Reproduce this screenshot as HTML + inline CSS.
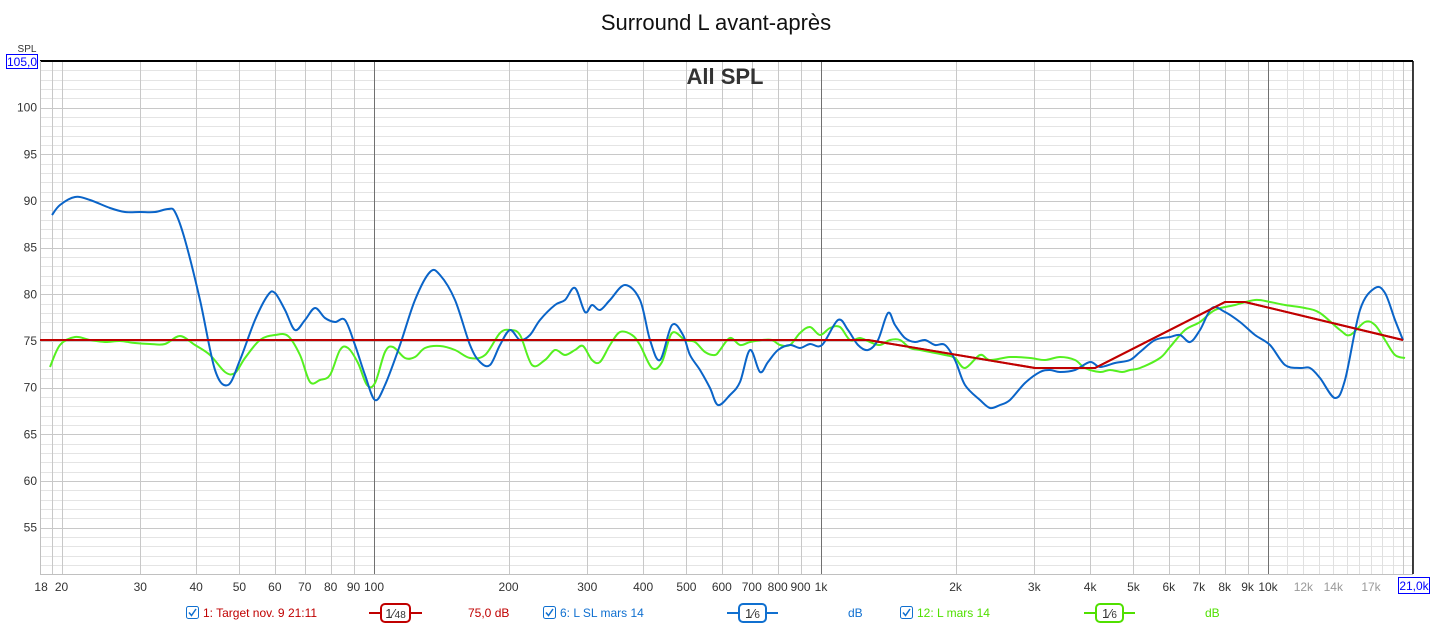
<!DOCTYPE html>
<html><head><meta charset="utf-8"><style>
body{margin:0;background:#fff;width:1433px;height:625px;overflow:hidden;font-family:"Liberation Sans",sans-serif}
svg text{font-family:"Liberation Sans",sans-serif}
</style></head><body>
<svg id="s" width="1433" height="625" xmlns="http://www.w3.org/2000/svg"></svg>
<script>
const S=document.getElementById('s');let h='';
const X=f=>374+447*Math.log10(f/100), Y=v=>61+(105-v)*9.333;
const P=v=>Math.round(v)+0.5;
const L=40,R=1413,T=61,B=574;
for(let v=50;v<=105;v++){const y=P(Y(v));h+=`<line x1="${L}" x2="${R}" y1="${y}" y2="${y}" stroke="${v%5==0?'#c8c8c8':'#e4e4e4'}" stroke-width="1"/>`;}
const fr=[];for(let d of [10,100,1000,10000])for(let m=1;m<10;m++){const f=d*m;if(f>=18&&f<=21000)fr.push(f);}
fr.push(19);
for(let f=11000;f<=21000;f+=1000){if(f==20000)continue;const x=P(X(f));h+=`<line x1="${x}" x2="${x}" y1="${T}" y2="${B}" stroke="#e0e0e0"/>`;}
for(let f of fr){const x=P(X(f));let c='#c8c8c8';if([100,1000,10000].includes(f))c='#707070';h+=`<line x1="${x}" x2="${x}" y1="${T}" y2="${B}" stroke="${c}"/>`;}
h+=`<line x1="${L}" x2="${R}" y1="${T}" y2="${T}" stroke="#000" stroke-width="2"/>`;
h+=`<line x1="${R}" x2="${R}" y1="${T}" y2="${B}" stroke="#000" stroke-width="1.5"/>`;
h+=`<line x1="${L}" x2="${R}" y1="${B+0.5}" y2="${B+0.5}" stroke="#c0c0c0"/>`;
h+=`<line x1="${L+0.5}" x2="${L+0.5}" y1="${T}" y2="${B}" stroke="#c0c0c0"/>`;
for(let v=55;v<=100;v+=5)h+=`<text x="37" y="${Y(v)+4}" font-size="12" fill="#333" text-anchor="end">${v}</text>`;
h+=`<text x="27" y="52" font-size="10" fill="#333" text-anchor="middle">SPL</text>`;
h+=`<rect x="6.5" y="54.5" width="31" height="14" fill="#fff" stroke="#0000ff"/><text x="22" y="66" font-size="12" fill="#0000ff" text-anchor="middle">105,0</text>`;
const xl=[[18,'18'],[20,'20'],[30,'30'],[40,'40'],[50,'50'],[60,'60'],[70,'70'],[80,'80'],[90,'90'],[100,'100'],[200,'200'],[300,'300'],[400,'400'],[500,'500'],[600,'600'],[700,'700'],[800,'800'],[900,'900'],[1000,'1k'],[2000,'2k'],[3000,'3k'],[4000,'4k'],[5000,'5k'],[6000,'6k'],[7000,'7k'],[8000,'8k'],[9000,'9k'],[10000,'10k']];
for(const[f,t]of xl)h+=`<text x="${X(f)}" y="591" font-size="12" fill="#333" text-anchor="middle">${t}</text>`;
for(const[f,t]of [[12000,'12k'],[14000,'14k'],[17000,'17k']])h+=`<text x="${X(f)}" y="591" font-size="12" fill="#999" text-anchor="middle">${t}</text>`;
h+=`<rect x="1398.5" y="577.5" width="31" height="16" fill="#fff" stroke="#0000ff"/><text x="1414" y="590" font-size="12" fill="#0000ff" text-anchor="middle">21,0k</text>`;
h+=`<text x="716" y="30" font-size="22" fill="#111" text-anchor="middle">Surround L avant-après</text>`;
h+=`<text x="725" y="84" font-size="22" font-weight="bold" fill="#333" text-anchor="middle">All SPL</text>`;
function cr(p){let d=`M${p[0][0]},${p[0][1]}`;for(let i=0;i<p.length-1;i++){const a=p[Math.max(i-1,0)],b=p[i],c=p[i+1],e=p[Math.min(i+2,p.length-1)];d+=`C${b[0]+(c[0]-a[0])/6},${b[1]+(c[1]-a[1])/6} ${c[0]-(e[0]-b[0])/6},${c[1]-(e[1]-b[1])/6} ${c[0]},${c[1]}`;}return d;}
const blue=[[52,215],[60,205],[75,197],[90,200],[110,208],[125,212],[140,212],[155,212],[168,209],[175,212],[185,240],[200,300],[215,370],[228,385],[240,360],[255,320],[268,295],[275,293],[285,310],[295,330],[305,320],[315,308],[325,318],[335,322],[345,320],[355,345],[365,375],[375,400],[385,385],[400,345],[415,300],[430,272],[440,275],[455,300],[470,345],[480,362],[490,365],[500,345],[510,330],[520,340],[530,335],[540,320],[555,305],[565,300],[575,288],[585,312],[592,305],[600,310],[610,300],[625,285],[640,300],[650,340],[660,360],[672,325],[683,335],[690,355],[700,370],[710,388],[718,405],[730,395],[740,382],[750,350],[760,372],[768,362],[778,350],[790,345],[800,348],[810,344],[822,345],[838,320],[848,330],[858,345],[868,350],[878,340],[888,313],[895,325],[905,338],[915,342],[925,340],[935,345],[945,345],[955,360],[965,385],[980,400],[990,408],[1000,405],[1010,400],[1025,383],[1040,372],[1050,370],[1060,372],[1075,370],[1090,362],[1100,367],[1115,363],[1130,360],[1140,352],[1155,340],[1170,337],[1180,335],[1190,342],[1200,330],[1212,308],[1225,312],[1240,322],[1255,335],[1270,345],[1285,365],[1300,368],[1310,368],[1320,378],[1335,398],[1345,380],[1360,310],[1375,288],[1385,293],[1395,320],[1403,340]];
const green=[[50,367],[60,345],[75,337],[90,340],[105,342],[120,341],[135,343],[150,344],[165,344],[180,336],[195,345],[210,355],[225,372],[235,373],[245,358],[260,340],[275,335],[288,336],[300,355],[310,382],[320,380],[330,375],[340,350],[348,348],[358,363],[367,385],[375,383],[385,352],[393,347],[405,358],[415,357],[425,348],[440,346],[455,350],[470,358],[485,355],[500,333],[510,330],[520,335],[532,365],[545,360],[555,350],[565,355],[575,350],[583,346],[592,360],[600,362],[610,345],[620,332],[632,335],[640,345],[652,368],[662,362],[672,333],[685,340],[695,342],[705,352],[715,355],[720,350],[730,338],[740,345],[750,342],[762,340],[772,340],[780,345],[790,345],[800,333],[810,327],[820,335],[830,328],[840,327],[850,340],[860,338],[870,342],[880,345],[890,340],[900,340],[910,348],[920,350],[930,352],[945,355],[955,358],[965,368],[980,355],[990,360],[1010,357],[1030,358],[1045,360],[1060,357],[1075,360],[1085,368],[1100,372],[1110,370],[1122,372],[1130,370],[1140,368],[1160,358],[1170,347],[1185,330],[1200,322],[1215,310],[1235,305],[1255,300],[1270,302],[1285,305],[1305,308],[1320,313],[1340,330],[1350,335],[1365,322],[1375,325],[1385,340],[1395,355],[1405,358]];
const red="40,340 868,340 1035,368 1095,368 1225,302 1245,302 1403,340";
h+=`<polyline points="${red}" fill="none" stroke="#c00000" stroke-width="2"/>`;
h+=`<path d="${cr(green)}" fill="none" stroke="#55f020" stroke-width="2"/>`;
h+=`<path d="${cr(blue)}" fill="none" stroke="#0a64c8" stroke-width="2"/>`;
h+=`<polyline points="${red}" fill="none" stroke="#c00000" stroke-width="2"/>`;
function cb(x){return `<rect x="${x+0.5}" y="606.5" width="12" height="12" rx="2" fill="#fff" stroke="#1070d0"/><polyline points="${x+3},612.5 ${x+5.5},615.5 ${x+10},609" fill="none" stroke="#1070d0" stroke-width="1.5"/>`;}
function lg(x,c,t,bx,bw,fr,dx,dt){return cb(x)+`<text x="${x+17}" y="617" font-size="12" fill="${c}">${t}</text><line x1="${bx-12}" x2="${bx+bw+12}" y1="613" y2="613" stroke="${c}" stroke-width="2"/><rect x="${bx}" y="604" width="${bw}" height="18" rx="4" fill="#fff" stroke="${c}" stroke-width="2"/><text x="${bx+bw/2}" y="618" font-size="13" fill="#333" text-anchor="middle">${fr}</text><text x="${dx}" y="617" font-size="12" fill="${c}">${dt}</text>`;}
h+=lg(186,'#c00000','1: Target nov. 9 21:11',381,29,'1⁄<tspan font-size="10">48</tspan>',468,'75,0 dB');
h+=lg(543,'#1070d0','6: L SL mars 14',739,27,'1⁄<tspan font-size="10">6</tspan>',848,'dB');
h+=lg(900,'#50e000','12: L mars 14',1096,27,'1⁄<tspan font-size="10">6</tspan>',1205,'dB');
S.innerHTML=h;
</script>
</body></html>
